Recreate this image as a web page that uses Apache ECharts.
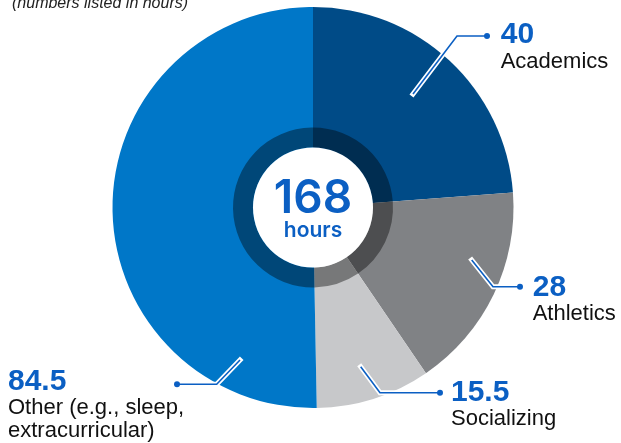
<!DOCTYPE html>
<html><head><meta charset="utf-8">
<script src="https://cdn.jsdelivr.net/npm/echarts@6/dist/echarts.min.js"></script>
<style>html,body{margin:0;padding:0;background:#fff}#c{width:621px;height:443px}</style>
</head><body><div id="c"></div>
<script>
// ---- data ----
const categories = ['Academics', 'Athletics', 'Socializing', 'Other (e.g., sleep,\nextracurricular)'];
const hours = [40, 28, 15.5, 84.5];
const centerUnit = 'hours';
const note = '(numbers listed in hours)';

// ---- styles / layout ----
const sliceColors = ['#004b87', '#808285', '#c7c8ca', '#0077c8'];
const blue = '#0b5fc3';
const CX = 313, CY = 207.5, R = 200.5;
// leader-line geometry, offsets from pie centre (start, bend, end) + label anchor [x, top]
const guides = [
  { pts: [[100, -113.5], [144, -171.5], [174, -171.5]], lab: [187.7, -187.5] },
  { pts: [[158.7, 52.5], [180, 79.2], [207, 79.2]], lab: [219.7, 65.2] },
  { pts: [[47.7, 159.2], [67, 185.2], [127, 185.2]], lab: [138, 170.1] },
  { pts: [[-73, 152.5], [-96.3, 176.8], [-136, 176.8]], lab: [-305, 159.1] }
];
function absPts(i) { return guides[i].pts.map(p => [CX + p[0], CY + p[1]]); }

const total = hours.reduce((a, b) => a + b, 0);
const pieData = categories.map((n, i) => ({ name: n, value: hours[i], itemStyle: { color: sliceColors[i] } }));
const ghostData = categories.map((n, i) => ({ name: n, value: hours[i] }));

const chart = echarts.init(document.getElementById('c'), null, { renderer: 'canvas' });
const common = {
  type: 'pie', center: [CX, CY], startAngle: 90, clockwise: true, silent: true,
  animation: false, avoidLabelOverlap: false, emphasis: { disabled: true }
};
chart.setOption({
  backgroundColor: '#fff',
  graphic: [{
    type: 'text', left: 12, top: -4,
    style: { text: note, font: 'italic 16px "Liberation Sans", Arial, sans-serif', fill: '#222' }
  }],
  series: [
    Object.assign({}, common, {
      z: 2, radius: [0, R], label: { show: false }, labelLine: { show: false }, data: pieData
    }),
    Object.assign({}, common, {
      z: 2, radius: [60, 80], label: { show: false }, labelLine: { show: false },
      itemStyle: { color: 'rgba(0,0,0,0.4)' }, data: ghostData
    }),
    Object.assign({}, common, {
      z: 2, radius: [0, 60], labelLine: { show: false },
      itemStyle: { color: '#ffffff' },
      label: {
        show: true, position: 'center',
        formatter: () => '{n|' + total + '}\n{h|' + centerUnit + '}',
        rich: {
          n: { fontFamily: 'Inter, sans-serif', fontWeight: 600, fontSize: 46, color: blue, lineHeight: 46, padding: [6, 0, 0, 0] },
          h: { fontFamily: 'Inter, sans-serif', fontWeight: 600, fontSize: 21, color: blue, lineHeight: 22 }
        }
      },
      data: [{ name: 'total', value: total }]
    }),
    // white outline of leader lines + dots
    Object.assign({}, common, {
      z: 5, radius: [0, R], itemStyle: { color: 'rgba(0,0,0,0)' },
      label: {
        show: true, position: 'outside', formatter: '{d|}',
        rich: { d: { width: 6, height: 6, borderRadius: 3, backgroundColor: blue } }
      },
      labelLine: { show: true, lineStyle: { color: '#ffffff', width: 5, cap: 'square', join: 'miter' } },
      labelLayout: function (p) {
        const pts = absPts(p.dataIndex);
        return { x: pts[2][0], y: pts[2][1], align: 'center', verticalAlign: 'middle', labelLinePoints: pts };
      },
      data: ghostData
    }),
    // blue leader lines + text labels
    Object.assign({}, common, {
      z: 6, radius: [0, R], itemStyle: { color: 'rgba(0,0,0,0)' },
      label: {
        show: true, position: 'outside', width: 240,
        formatter: function (p) {
          return '{v|' + p.value + '}\n' + p.name.split('\n').map(s => '{n|' + s + '}').join('\n');
        },
        rich: {
          v: { fontFamily: '"Liberation Sans", Arial, sans-serif', fontWeight: 'bold', fontSize: 30, color: blue, lineHeight: 30, align: 'left' },
          n: { fontFamily: '"Liberation Sans", Arial, sans-serif', fontSize: 22, color: '#111', lineHeight: 23, align: 'left' }
        }
      },
      labelLine: { show: true, lineStyle: { color: blue, width: 1.6 } },
      labelLayout: function (p) {
        const g = guides[p.dataIndex];
        return {
          x: CX + g.lab[0], y: CY + g.lab[1], align: 'left', verticalAlign: 'top', width: 240,
          labelLinePoints: absPts(p.dataIndex)
        };
      },
      data: ghostData
    })
  ]
});
</script></body></html>
